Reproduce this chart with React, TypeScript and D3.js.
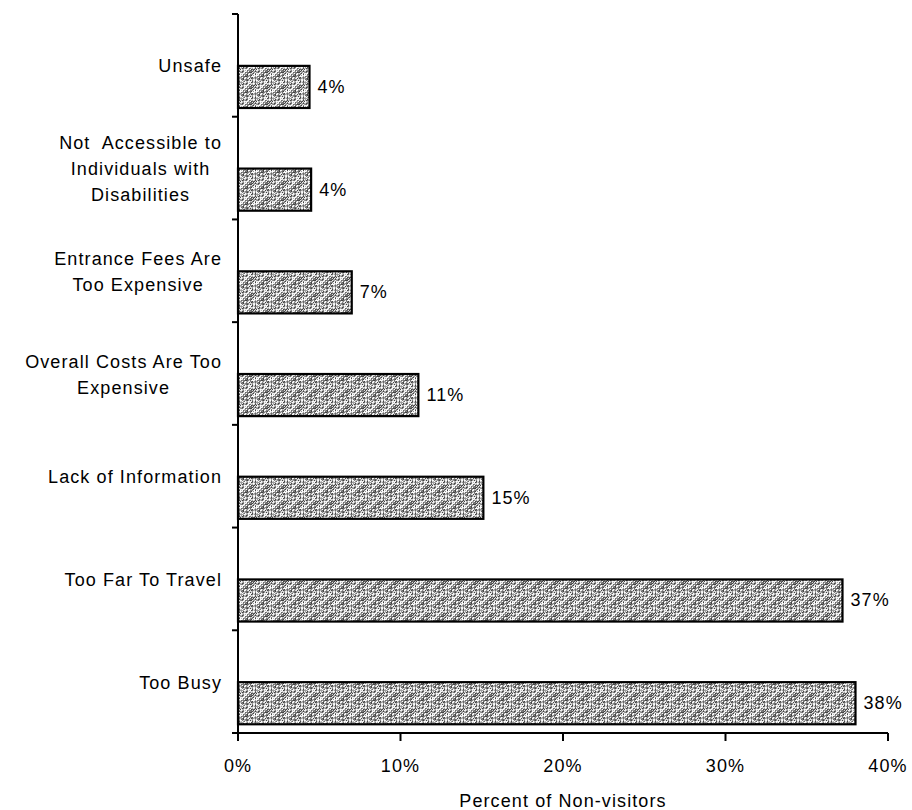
import React, { useEffect, useRef } from "react";
import * as d3 from "d3";

const categories: string[][] = [
  ["Unsafe"],
  ["Not  Accessible to", "Individuals with", "Disabilities"],
  ["Entrance Fees Are", "Too Expensive"],
  ["Overall Costs Are Too", "Expensive"],
  ["Lack of Information"],
  ["Too Far To Travel"],
  ["Too Busy"],
];
const values: number[] = [4.4, 4.5, 7.0, 11.1, 15.1, 37.2, 38.0];
const valueLabels: string[] = ["4%", "4%", "7%", "11%", "15%", "37%", "38%"];
const xTicks: number[] = [0, 10, 20, 30, 40];
const xTitle = "Percent of Non-visitors";

export default function App() {
  const ref = useRef<SVGSVGElement>(null);
  useEffect(() => {
    const svg = d3.select(ref.current);
    svg.selectAll("*").remove();
    const left = 238, right = 888, top = 14, bottom = 733;
    const font = "'Liberation Sans', Arial, sans-serif";
    const fs = 18;
    const ls = 1.1;

    // stipple texture (fixed dither pattern)
    const P = 16;
    const defs = svg.append("defs");
    const pat = defs.append("pattern").attr("id", "stip").attr("patternUnits", "userSpaceOnUse")
      .attr("width", P).attr("height", P);
    pat.append("rect").attr("width", P).attr("height", P).attr("fill", "#9a9a9a");
    const shades = ["#ffffff", "#d8d8d8", "#9a9a9a", "#6a6a6a", "#444444", "#b8b8b8", "#808080", "#f0f0f0"];
    for (let yy = 0; yy < P; yy++) {
      for (let xx = 0; xx < P; xx++) {
        const h = ((xx * 73856093) ^ (yy * 19349663) ^ ((xx + yy) * 83492791)) >>> 0;
        const k = (h >>> 5) % shades.length;
        pat.append("rect").attr("x", xx).attr("y", yy).attr("width", 1).attr("height", 1)
          .attr("fill", shades[k]).attr("shape-rendering", "crispEdges");
      }
    }

    const x = d3.scaleLinear().domain([0, 40]).range([left, right]);
    const y = d3.scaleBand<number>().domain(d3.range(categories.length)).range([top, bottom]).paddingInner(0).paddingOuter(0);
    const bw = y.bandwidth();

    // bars
    svg.append("g").selectAll("rect").data(values).join("rect")
      .attr("x", x(0))
      .attr("y", (_, i) => (y(i) as number) + bw * 0.505)
      .attr("width", (d) => x(d) - x(0))
      .attr("height", bw * 0.41)
      .attr("fill", "url(#stip)")
      .attr("stroke", "#000")
      .attr("stroke-width", 2.2);

    // value labels
    svg.append("g").selectAll("text").data(values).join("text")
      .attr("x", (d) => x(d) + 8)
      .attr("y", (_, i) => (y(i) as number) + bw * 0.71)
      .attr("dominant-baseline", "central")
      .attr("font-family", font).attr("font-size", fs).attr("letter-spacing", ls)
      .attr("fill", "#000")
      .text((_, i) => valueLabels[i]);

    // axes
    const ax = svg.append("g").attr("stroke", "#000").attr("stroke-width", 2).attr("fill", "none");
    ax.append("line").attr("x1", left).attr("x2", left).attr("y1", top).attr("y2", bottom + 1);
    ax.append("line").attr("x1", left - 1).attr("x2", right).attr("y1", bottom).attr("y2", bottom);
    const bounds = d3.range(categories.length + 1).map((i) => top + i * bw);
    bounds.forEach((b) => ax.append("line").attr("x1", left - 6).attr("x2", left).attr("y1", b).attr("y2", b));
    xTicks.forEach((t) => ax.append("line").attr("x1", x(t)).attr("x2", x(t)).attr("y1", bottom).attr("y2", bottom + 8));

    // x tick labels
    svg.append("g").selectAll("text").data(xTicks).join("text")
      .attr("x", (d) => x(d))
      .attr("y", 772)
      .attr("text-anchor", "middle")
      .attr("font-family", font).attr("font-size", fs).attr("letter-spacing", ls)
      .text((d) => `${d}%`);

    svg.append("text").attr("x", (left + right) / 2).attr("y", 807)
      .attr("text-anchor", "middle")
      .attr("font-family", font).attr("font-size", fs).attr("letter-spacing", ls)
      .text(xTitle);

    // category labels: block right-aligned, lines centered
    const lineH = 26;
    const rightEdge = 222;
    categories.forEach((lines, i) => {
      const g = svg.append("g");
      const cy = (y(i) as number) + bw / 2 + 1;
      const texts = lines.map((ln, j) =>
        g.append("text")
          .attr("y", cy + (j - (lines.length - 1) / 2) * lineH)
          .attr("dominant-baseline", "central")
          .attr("text-anchor", "middle")
          .attr("font-family", font).attr("font-size", fs).attr("letter-spacing", ls)
          .style("white-space", "pre")
          .text(ln)
      );
      const maxW = d3.max(texts, (t) => (t.node() as SVGTextElement).getComputedTextLength()) || 0;
      texts.forEach((t) => t.attr("x", rightEdge - maxW / 2));
    });
  }, []);
  return (
    <svg ref={ref} width={912} height={810} style={{ position: "absolute", left: 0, top: 0, background: "#fff" }} />
  );
}
